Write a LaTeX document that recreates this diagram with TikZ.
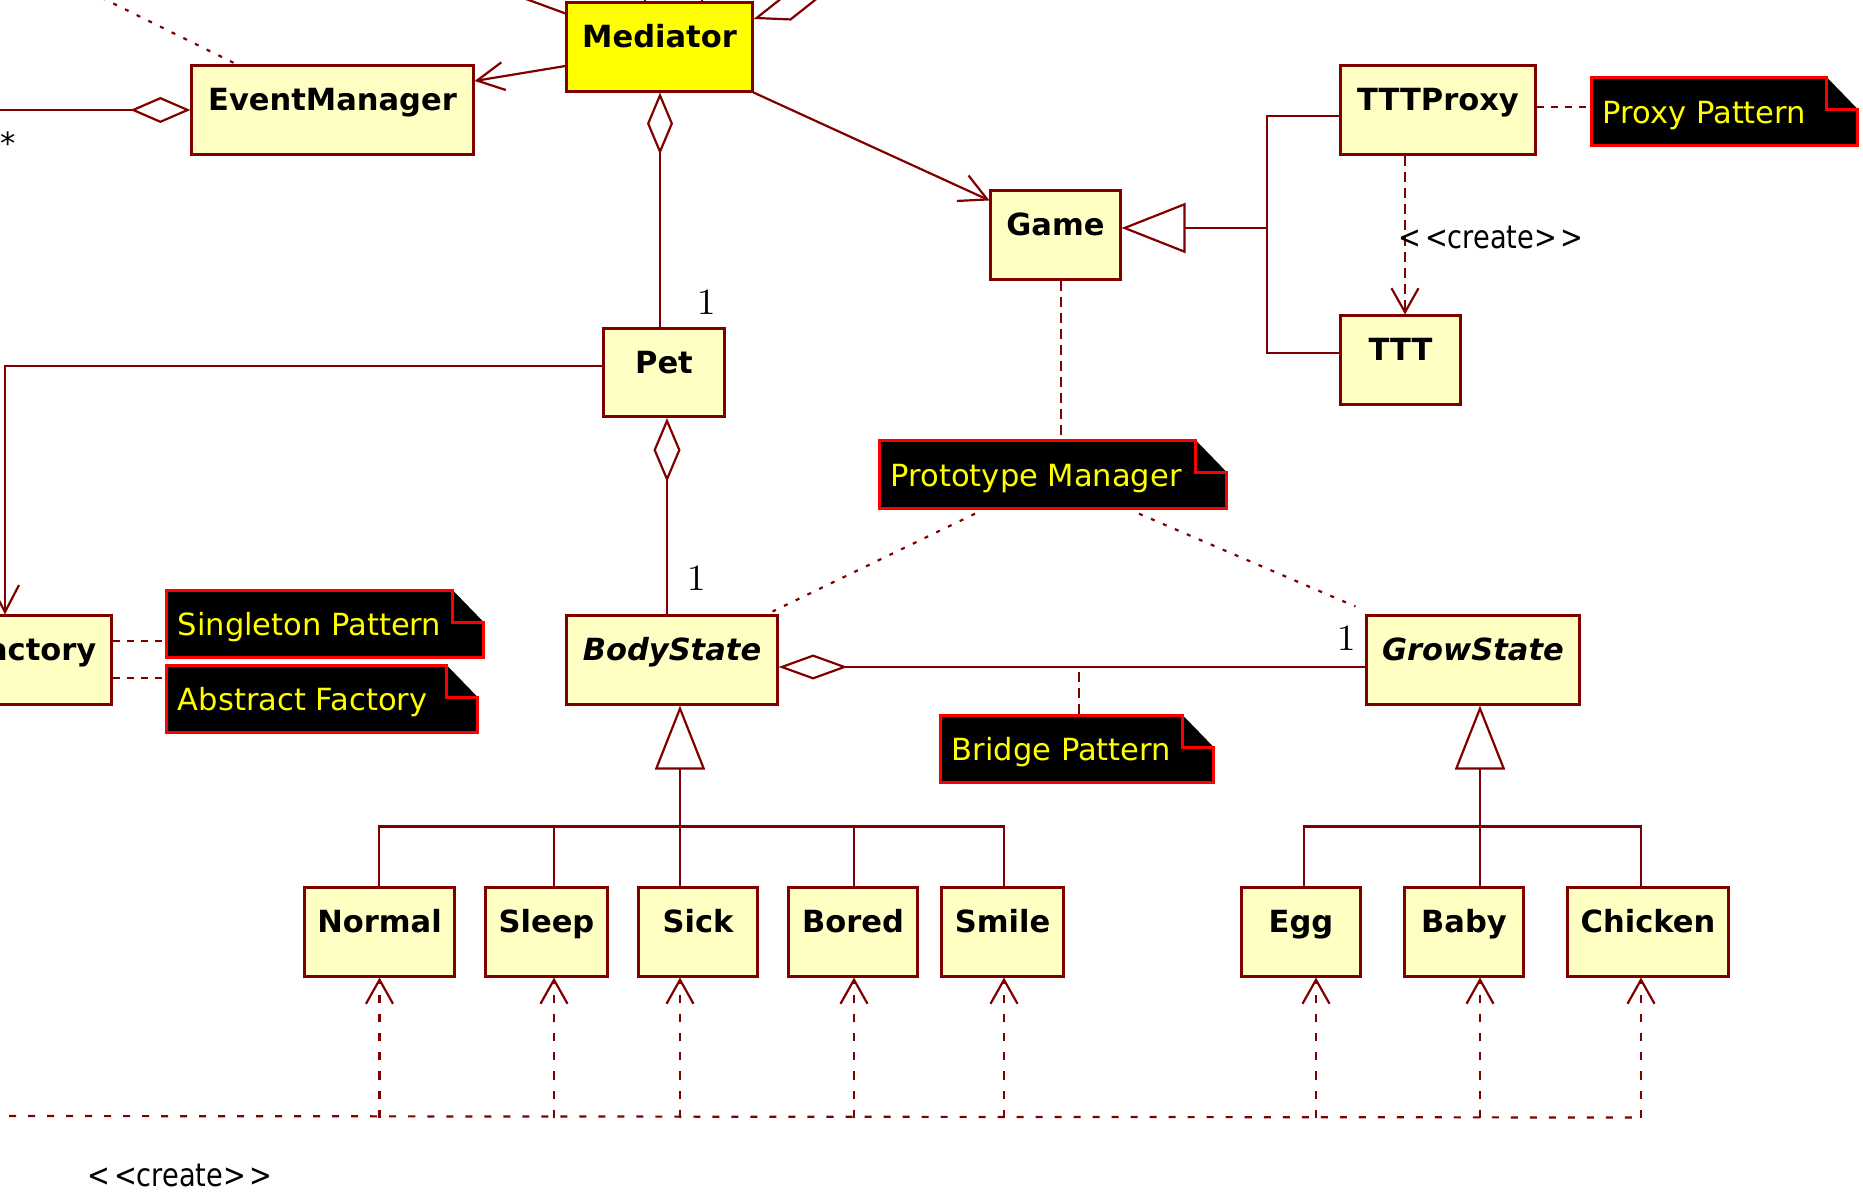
\documentclass[tikz,border=0pt]{standalone}
\usepackage{fontspec}
\usetikzlibrary{arrows.meta,calc}
\newfontfamily\umlfont{DejaVu Sans}
\newfontfamily\umlcond[FakeStretch=0.85]{DejaVu Sans}
\definecolor{dred}{RGB}{128,0,0}
\definecolor{clsfill}{RGB}{255,255,196}
\definecolor{medyellow}{RGB}{255,255,0}
\definecolor{notered}{RGB}{255,0,0}
\definecolor{noteyellow}{RGB}{255,255,0}
% #1 name, #2 centre, #3 width, #4 height, #5 text
\newcommand{\umlnote}[5]{%
  \node[notebox, minimum width=#3, minimum height=#4] (#1) at #2 {};
  \fill[black] (#1.north west) -- ($(#1.north east)+(-31,0)$) -- ($(#1.north east)+(0,32)$) -- (#1.south east) -- (#1.south west) -- cycle;
  \draw[draw=notered, line width=0.03cm, line join=miter] ($(#1.north east)+(-31,0)$) -- (#1.north west) -- (#1.south west) -- (#1.south east) -- ($(#1.north east)+(0,32)$) -- ($(#1.north east)+(-31,32)$) -- cycle;
  \node[notetxt, anchor=base west] (#1t) at ($(#1.west)+(11,12)$) {#5};
}
\begin{document}
\begin{tikzpicture}[x=0.01cm,y=-0.01cm,
  cls/.style={draw=dred, line width=0.03cm, fill=clsfill, inner sep=0pt, text height=0.45cm, text depth=0.43cm, font=\umlfont\bfseries\fontsize{8.68}{10}\selectfont},
  abscls/.style={cls, font=\umlfont\bfseries\itshape\fontsize{8.68}{10}\selectfont},
  medcls/.style={cls, fill=medyellow},
  clstext/.style={inner sep=0pt, font=\umlfont\bfseries\fontsize{8.68}{10}\selectfont},
  notebox/.style={inner sep=0pt, draw=none},
  notetxt/.style={inner sep=0pt, text=noteyellow, font=\umlfont\fontsize{8.68}{10}\selectfont},
  createlbl/.style={inner sep=0pt, font=\umlcond\fontsize{9.1}{11}\selectfont},
  mult/.style={inner sep=0pt, font=\fontsize{10.5}{12}\selectfont},
  conn/.style={draw=dred, line width=0.022cm},
  opn/.style={conn, -{Straight Barb[length=0.27cm,width=0.28cm]}},
  gen/.style={conn, -{Triangle[open,length=0.64cm,width=0.5cm]}},
  dep/.style={conn, dash pattern=on 0.08cm off 0.11cm, -{Straight Barb[length=0.24cm,width=0.27cm]}},
  dashL/.style={dash pattern=on 0.1cm off 0.06cm},
  dashS/.style={dash pattern=on 0.07cm off 0.07cm},
  dotL/.style={dash pattern=on 0.04cm off 0.09cm},
  dashH/.style={dash pattern=on 0.07cm off 0.12cm}
]
\useasboundingbox (0,0) rectangle (1863,1195);
\clip (0,0) rectangle (1863,1195);

% free ends
\coordinate (evmL) at (-10,110);
\coordinate (medTR) at (880,-22);
\coordinate (gjoin) at (1267,228);
\coordinate (bridgeA) at (1079,672);
\coordinate (busB) at (680,828);
\coordinate (busG) at (1480,828);
\coordinate (depL) at (-10,1116);
\coordinate (evmTL) at (90,-8);
\coordinate (medTL) at (515,-5);
\coordinate (medT1) at (645,-5);
\coordinate (medT2) at (702,-5);

% classes
\node[medcls, minimum width=1.85cm] (med) at (659.5,47) {Mediator};
\node[cls, minimum width=2.81cm] (evm) at (332.5,110) {EventManager};
\node[cls, minimum width=1.29cm] (game) at (1055.5,235) {Game};
\node[cls, minimum width=1.94cm] (proxy) at (1438,110) {TTTProxy};
\node[cls, minimum width=1.19cm] (ttt) at (1400.5,360) {TTT};
\node[cls, minimum width=1.20cm] (pet) at (664,372.5) {Pet};
\node[abscls, minimum width=2.10cm] (body) at (672,660) {BodyState};
\node[abscls, minimum width=2.12cm] (grow) at (1473,660) {GrowState};
\node[cls, minimum width=2.11cm] (fact) at (5.5,660) {};
\node[clstext, anchor=base east] (factname) at (97,661) {Factory};

\node[cls, minimum width=1.49cm] (normal) at (379.5,932) {Normal};
\node[cls, minimum width=1.21cm] (sleep) at (546.5,932) {Sleep};
\node[cls, minimum width=1.18cm] (sick) at (698,932) {Sick};
\node[cls, minimum width=1.28cm] (bored) at (853,932) {Bored};
\node[cls, minimum width=1.21cm] (smile) at (1002.5,932) {Smile};
\node[cls, minimum width=1.18cm] (egg) at (1301,932) {Egg};
\node[cls, minimum width=1.18cm] (baby) at (1464,932) {Baby};
\node[cls, minimum width=1.60cm] (chicken) at (1648,932) {Chicken};

% notes
\umlnote{pn}{(1724.5,111.5)}{2.65cm}{0.67cm}{Proxy Pattern}
\umlnote{pm}{(1053,474.5)}{3.46cm}{0.67cm}{Prototype Manager}
\umlnote{bn}{(1077,749)}{2.72cm}{0.66cm}{Bridge Pattern}
\umlnote{sn}{(325,624)}{3.16cm}{0.66cm}{Singleton Pattern}
\umlnote{an}{(322,699)}{3.10cm}{0.66cm}{Abstract Factory}

% aggregations
\draw[conn, {Diamond[open,length=0.62cm,width=0.26cm]}-] ($(med.south)+(0.5,0)$) -- ($(pet.north)+(-4,0)$);
\draw[conn, {Diamond[open,length=0.64cm,width=0.27cm]}-] ($(pet.south)+(3,0)$) -- ($(body.north)+(-5,0)$);
\draw[conn, {Diamond[open,length=0.69cm,width=0.25cm]}-] ($(body.east)+(0,7)$) -- ($(grow.west)+(0,7)$);
\draw[conn, -{Diamond[open,length=0.60cm,width=0.26cm]}] (evmL) -- (evm.west);
\draw[conn, {Diamond[open,length=0.70cm,width=0.26cm]}-] ($(med.east)+(0,-28)$) -- (medTR);

% navigable associations
\draw[opn] ($(med.west)+(0,19)$) -- ($(evm.east)+(0,-29)$);
\draw[opn] (med.south east) -- ($(game.north west)+(0,11)$);
\draw[opn] ($(pet.west)+(0,-6.5)$) -| ($(fact.north)+(-0.5,0)$);
\draw[conn] (medTL) -- ($(med.north west)+(0,12)$);
\draw[conn] ($(med.north)+(-14.5,0)$) -- (medT1);
\draw[conn] ($(med.north)+(42.5,0)$) -- (medT2);

% proxy generalisation
\draw[gen] (gjoin) -- ($(game.east)+(0,-7)$);
\draw[conn] ($(proxy.west)+(0,6)$) -| (gjoin);
\draw[conn] ($(ttt.west)+(0,-7)$) -| (gjoin);
\draw[dep, dash pattern=on 0.1cm off 0.06cm] ($(proxy.south)+(-33,0)$) -- ($(ttt.north)+(4.5,0)$);
\node[createlbl, anchor=west] (cr1) at (1398,238) {<\kern1pt<create>\kern1pt>};

% note links
\draw[conn, dashS] ($(proxy.east)+(0,-3)$) -- ($(pn.west)+(0,-4.5)$);
\draw[conn, dashL] ($(game.south)+(5.5,0)$) -- ($(pm.north)+(8,0)$);
\draw[conn, dotL] ($(pm.south)+(-78,5)$) -- ($(body.north east)+(-6,-3)$);
\draw[conn, dotL] ($(pm.south)+(86,5)$) -- ($(grow.north west)+(-10,-8)$);
\draw[conn, dashL] (bridgeA) -- ($(bn.north)+(2,0)$);
\draw[conn, dashS] ($(fact.east)+(0,-19)$) -- ($(sn.west)+(0,17)$);
\draw[conn, dashS] ($(fact.east)+(0,18)$) -- ($(an.west)+(0,-21)$);
\draw[conn, dotL] (evmTL) -- ($(evm.north)+(-95.5,0)$);

% state generalisations
\draw[gen] (busB) -- ($(body.south)+(8,0)$);
\draw[conn] ($(normal.north)+(-0.5,0)$) -- ++(0,-60) -| ($(smile.north)+(1.5,0)$);
\draw[conn] ($(sleep.north)+(7.5,0)$) -- ++(0,-60);
\draw[conn] ($(sick.north)+(-18,0)$) -- ++(0,-60);
\draw[conn] ($(bored.north)+(1,0)$) -- ++(0,-60);
\draw[gen] (busG) -- ($(grow.south)+(7,0)$);
\draw[conn] ($(egg.north)+(3,0)$) -- ++(0,-60) -| ($(chicken.north)+(-7,0)$);
\draw[conn] ($(baby.north)+(16,0)$) -- ++(0,-60);

% create dependencies
\draw[conn, dashH] (depL) -- ($(chicken.south)+(-7,140)$);
\foreach \n/\dx in {normal/0, sleep/7.5, sick/-18, bored/1, smile/1.5, egg/15, baby/16, chicken/-7}
  \draw[dep] ($(\n.south)+(\dx,140)$) -- ($(\n.south)+(\dx,0)$);
\node[createlbl] (cr2) at (180,1175) {<\kern1pt<create>\kern1pt>};

% multiplicities
\node[mult] (m1) at (707,302) {1};
\node[mult] (m2) at (697,578) {1};
\node[mult] (m3) at (1347,638) {1};
\node[inner sep=0pt, font=\umlfont\fontsize{8.68}{10}\selectfont] (st) at (8,143) {*};
\end{tikzpicture}
\end{document}
